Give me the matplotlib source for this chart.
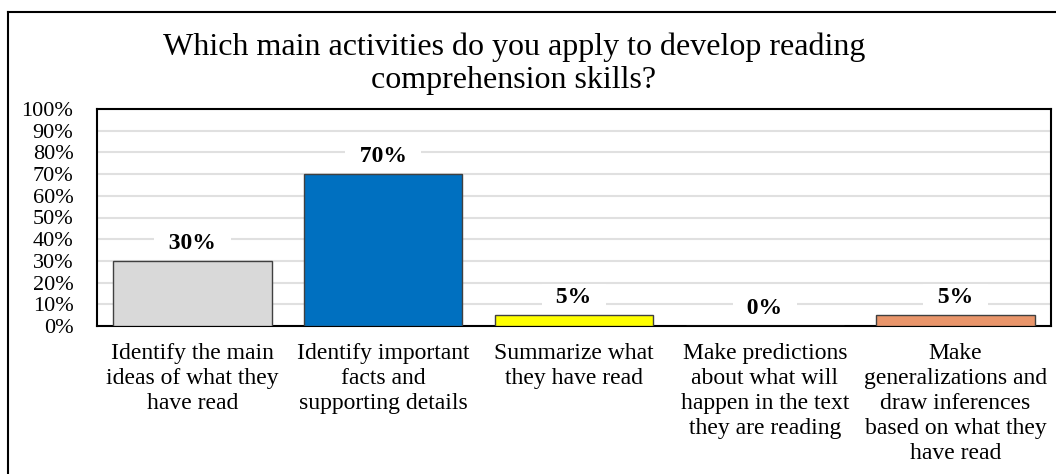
import matplotlib
matplotlib.use("Agg")
import matplotlib.pyplot as plt
from matplotlib.lines import Line2D

categories = [
    "Identify the main\nideas of what they\nhave read",
    "Identify important\nfacts and\nsupporting details",
    "Summarize what\nthey have read",
    "Make predictions\nabout what will\nhappen in the text\nthey are reading",
    "Make\ngeneralizations and\ndraw inferences\nbased on what they\nhave read",
]
values = [30, 70, 5, 0, 5]
colors = ["#D9D9D9", "#0070C0", "#FFFF00", "#FFFFFF", "#E9956A"]
yticks = list(range(0, 101, 10))
title = "Which main activities do you apply to develop reading\ncomprehension skills?"

plt.rcParams["font.family"] = ["Liberation Serif", "DejaVu Serif"]

W, H = 1056, 474
fig = plt.figure(figsize=(W / 100, H / 100), dpi=100)
ax = fig.add_axes([97 / W, 1 - 326 / H, (1051 - 97) / W, (326 - 109) / H])

x = list(range(len(categories)))
ax.bar(x, values, width=0.83, color=colors, edgecolor="#404040", linewidth=1.0, zorder=3)

ax.set_xlim(-0.5, len(categories) - 0.5)
ax.set_ylim(0, 100)
ax.set_yticks(yticks)
ax.set_yticklabels([f"{t}%" for t in yticks], fontsize=16)
ax.yaxis.grid(True, color="#E0E0E0", linewidth=1.5, zorder=0)
ax.set_axisbelow(True)
ax.tick_params(axis="y", length=0, pad=17)
ax.tick_params(axis="x", length=0, pad=12)
ax.set_xticks(x)
ax.set_xticklabels(categories, fontsize=17, linespacing=1.25, va="top")
for s in ax.spines.values():
    s.set_color("black")
    s.set_linewidth(1.5)

for xi, v in zip(x, values):
    ax.text(xi, v + 8.2, f"  {v}%  ", ha="center", va="center", fontsize=17, fontweight="bold",
            bbox=dict(facecolor="white", edgecolor="none", pad=2), zorder=4)

fig.text(514 / W, 1 - 64 / H, title, ha="center", va="center", fontsize=23, linespacing=1.2)

# outer chart border (top and left visible)
fig.add_artist(Line2D([8 / W, 1.0], [1 - 12 / H, 1 - 12 / H], color="black", linewidth=1.5,
                      transform=fig.transFigure))
fig.add_artist(Line2D([8 / W, 8 / W], [0, 1 - 12 / H], color="black", linewidth=1.5,
                      transform=fig.transFigure))

fig.savefig("out.png", dpi=100)
